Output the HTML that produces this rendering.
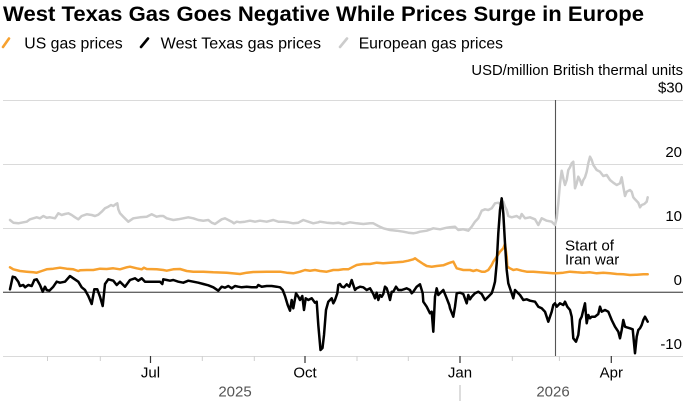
<!DOCTYPE html>
<html><head><meta charset="utf-8"><style>
html,body{margin:0;padding:0;background:#fff;}
svg{display:block;font-family:"Liberation Sans",Arial,sans-serif;}
</style></head><body>
<svg width="689" height="407" viewBox="0 0 689 407" xmlns="http://www.w3.org/2000/svg">
<rect width="689" height="407" fill="#fff"/>
<text x="3" y="21" font-size="21" font-weight="bold" fill="#000" textLength="641" lengthAdjust="spacingAndGlyphs">West Texas Gas Goes Negative While Prices Surge in Europe</text>
<line x1="3" y1="47" x2="9" y2="38.5" stroke="#f7a12f" stroke-width="2.6" stroke-linecap="round"/>
<text x="24.3" y="48.3" font-size="16" fill="#000" textLength="98.4" lengthAdjust="spacingAndGlyphs">US gas prices</text>
<line x1="141" y1="47" x2="148" y2="38.5" stroke="#000" stroke-width="2.6" stroke-linecap="round"/>
<text x="160.7" y="48.3" font-size="16" fill="#000" textLength="160.3" lengthAdjust="spacingAndGlyphs">West Texas gas prices</text>
<line x1="340" y1="47" x2="347" y2="38.5" stroke="#cccccc" stroke-width="2.6" stroke-linecap="round"/>
<text x="358.7" y="48.3" font-size="16" fill="#000" textLength="144.3" lengthAdjust="spacingAndGlyphs">European gas prices</text>
<text x="683" y="75" font-size="15" fill="#000" text-anchor="end" textLength="211.6" lengthAdjust="spacingAndGlyphs">USD/million British thermal units</text>
<text x="683" y="92.7" font-size="15" fill="#000" text-anchor="end">$30</text>
<text x="682" y="157" font-size="15" fill="#000" text-anchor="end">20</text>
<text x="682" y="221" font-size="15" fill="#000" text-anchor="end">10</text>
<text x="682" y="285" font-size="15" fill="#000" text-anchor="end">0</text>
<text x="682" y="349" font-size="15" fill="#000" text-anchor="end">-10</text>
<g stroke="#dadada" stroke-width="1">
<line x1="3" y1="100.5" x2="683" y2="100.5"/>
<line x1="3" y1="164.5" x2="683" y2="164.5"/>
<line x1="3" y1="228.5" x2="683" y2="228.5"/>
<line x1="3" y1="356.5" x2="683" y2="356.5"/>
</g>
<line x1="3" y1="292.3" x2="683" y2="292.3" stroke="#666" stroke-width="1.3"/>
<g stroke="#cfcfcf" stroke-width="1">
<line x1="47.5" y1="356" x2="47.5" y2="361"/>
<line x1="100.3" y1="356" x2="100.3" y2="361"/>
<line x1="202.3" y1="356" x2="202.3" y2="361"/>
<line x1="254.3" y1="356" x2="254.3" y2="361"/>
<line x1="357" y1="356" x2="357" y2="361"/>
<line x1="408.3" y1="356" x2="408.3" y2="361"/>
<line x1="512.3" y1="356" x2="512.3" y2="361"/>
<line x1="559.4" y1="356" x2="559.4" y2="361"/>
</g>
<g stroke="#333" stroke-width="1.2">
<line x1="150.5" y1="356" x2="150.5" y2="363"/>
<line x1="305" y1="356" x2="305" y2="363"/>
<line x1="460" y1="356" x2="460" y2="363"/>
<line x1="611.3" y1="356" x2="611.3" y2="363"/>
</g>
<line x1="460" y1="385" x2="460" y2="401" stroke="#bbb" stroke-width="1"/>
<g font-size="15" fill="#000" text-anchor="middle">
<text x="150.5" y="377.7">Jul</text>
<text x="305" y="377.7">Oct</text>
<text x="460" y="377.7">Jan</text>
<text x="611.3" y="377.7">Apr</text>
</g>
<g font-size="15" fill="#555" text-anchor="middle">
<text x="235" y="396.7">2025</text>
<text x="553" y="396.7">2026</text>
</g>
<line x1="555.5" y1="100" x2="555.5" y2="356" stroke="#555" stroke-width="1.1"/>
<text x="565" y="250.7" font-size="15" fill="#000" textLength="49" lengthAdjust="spacingAndGlyphs">Start of</text>
<text x="565" y="264.7" font-size="15" fill="#000">Iran war</text>
<g fill="none" stroke-width="2.5" stroke-linejoin="round" stroke-linecap="round">
<polyline stroke="#cccccc" points="10,220 13.3,222.7 18.3,223.3 23.3,222.3 26.7,221.7 30,219.3 33.3,218.3 36.7,217.3 40,218.3 43.3,216 46.7,217.7 50,217.3 55,218.3 58.3,213.3 61.7,215 65,214 68.3,213.3 71.7,215 75,217.3 78.3,219.3 81.7,216 86.7,214.3 91.7,215 95,216 98.3,214.7 101.7,211.7 105,208.3 108.3,206.7 111,205 113.3,206 116,204 117.3,203.3 118.3,209.3 120,213.3 123.3,216.7 128.3,221.7 133.3,218.3 140,217.3 146.7,216.7 151.7,214.3 156.7,216.7 160,216 163.3,216 166.7,218.3 173.3,220 178.3,219.3 183.3,218.3 188.3,217.3 193.3,218.3 198.3,220 203.3,220.7 208.3,220 211.7,222.7 215,224 218.3,221.7 221.7,219.3 225,218.3 228.3,220 231.7,221.7 234,223.3 236.7,221.7 240,222.3 245,221.7 250,220.7 255,221.7 260,220.7 266.7,221.7 273.3,220 278.3,221.7 283.3,221.7 288.3,222.3 293.3,223.3 298.3,222.7 303.3,220 308.3,221.7 313.3,223.3 318.3,222.3 320,221.7 326.7,222.7 333.3,223.3 338.3,222.7 343.3,224 350,222.3 356.7,223.3 363.3,224 370,223.3 373.3,223.3 378.3,226 383.3,228.3 390,230 396.7,230.7 403.3,231.7 408.3,232.7 413.3,233.3 416.7,232.7 420,231.7 426.7,230.7 433.3,228.3 440,229.3 446.7,227.7 450,227.3 455,226.7 458.3,230 463.3,229.3 468.3,230.7 471.7,226.7 475,221.7 478.3,218.3 481.7,210.7 485,209.3 488.3,210 491.7,208.3 495,203.3 498.3,202.7 501.7,205 503.3,201.7 505,206.7 506.7,210 508.3,216 511.7,217.3 516.7,216 520,218.3 521.7,214 525,218.3 530,217.3 535,219.3 538.3,225 541.7,218.3 546.7,220.7 551.7,221.7 555,225 556.7,218.3 558.3,203.3 560,183.3 561.7,170.7 563.3,178.3 565,185 566.7,180 568.3,170 570,167.3 571.7,163.3 573.3,161.7 575,188.3 576.7,183.3 578.3,176.7 580,180 581.7,185 583.3,180 585,177.3 586.7,171.7 588.3,163.3 590,156.7 591.7,160 593.3,165 596.7,170 600,171.7 603.3,176 606.7,175 610,180 613.3,182.7 616.7,185 620,183.3 621.7,177.3 623.3,186.7 625,196 626.7,191.7 630,190 631.7,191.7 633.3,197.3 635,199.3 638.3,202.7 640,207.3 641.7,205 644.3,204 646.7,201.7 647.7,197.3"/>
<polyline stroke="#f7a12f" points="10,267.3 13.3,269.3 20,271 26.7,271.7 33.3,272.3 36.7,272.7 41.7,271 46.7,269.3 53.3,268.7 60,267.7 66.7,268.7 73.3,269.3 78.3,271 80,270.3 86.7,270 93.3,270 100,268.7 106.7,269 113.3,268.3 120,269.3 126.7,267.3 130,266.7 136.7,268.3 141.7,269.3 144,267.7 146.7,269 156.7,269.3 163.3,270 166.7,270.7 173.3,269.3 180,269 186.7,271 193.3,271.7 203.3,271.7 213.3,272.3 226.7,272.7 240,274 246.7,272.7 253.3,272 266.7,271.7 280,271.7 286.7,272.7 293.3,273.3 300,271.7 305,270 310,270.7 315,270 320,271 326.7,271.7 333.3,270 338.3,270 343.3,269.3 348.3,269.3 353.3,266.7 356.7,265 363.3,264 370,264 376.7,262.7 383.3,263.3 390,262.7 396.7,262.3 403.3,261.7 408.3,260.7 413.3,259.3 415,258.3 418.3,260.7 423.3,264 426.7,266 431.7,266.7 436.7,266 443.3,265.3 448.3,263.3 450,262.7 453.3,261.7 456.7,268.3 463.3,270 470,270 473.3,271 476.7,270 481.7,271.7 485,271.7 488.3,270 491.7,265 493.3,261.7 496.7,256.7 500,251.7 503.3,248.3 505,244 506.7,256.7 507.3,266.7 510,268.3 513.3,270 516.7,269.3 521.7,270.7 526.7,271.7 533.3,271.7 540,272.3 546.7,272.7 553.3,273.3 556.7,273.3 563.3,272.7 570,271.7 576.7,272.3 583.3,272.7 590,272.3 596.7,273.3 603.3,272.7 610,273.3 616.7,274 623.3,274.3 630,275 636.7,274.7 643.3,274.3 647.7,274.3"/>
<polyline stroke="#000" points="10,289.3 12.7,276.7 15,277.3 18.3,281.7 20,286 23.3,285 25,287.3 28.3,285 31.7,286 34.3,280 36.7,279.3 40,285 42.7,291.7 45,286.7 46.7,290 49.3,290.7 53.3,286.7 56.7,281.7 60,282.7 65,281.7 70,276 73.3,278.3 78.3,281.7 81.7,287.3 85,290 88.3,296 91.7,304 94.3,289.3 97.3,289.3 100,296.7 102.7,306 105,284 108.3,279.3 113.3,280.7 116.7,285 120,281.7 125,286.7 130,280 135,278.3 138.3,280.7 141.7,278.3 145,281.7 150,281.7 160,281.7 162.3,284 163.3,279.3 166.7,280 170,280.7 173.3,280 178.3,281.7 183.3,282.7 188.3,280.7 193.3,281.7 198.3,282.7 203.3,284 208.3,285.3 213.3,287.3 218.3,290.7 221.7,286.7 225,287.7 228.3,286 231.7,288.3 235,286 238.3,286.7 241.7,287.3 246.7,286.7 251.7,287.3 256.7,287.3 258.3,285 261.7,286.7 266.7,286 271.7,286 276.7,286.7 280,287.3 282.7,290 285,296 287.7,305 290,310.7 291.7,300 293.3,308.3 296,293.3 298.3,296.7 300,300 302.3,296 304,310 305.7,298.3 308.3,300 311.7,298.3 315,302.7 316.7,301.7 318.3,325 320.5,350 322.5,348 324,335 326,310 328.3,301.7 331.7,298.3 333.3,303.3 335,300 337.3,293.3 338.3,285 340,284 341.7,286.7 344,287.3 346.7,284.3 349.3,286.7 351.7,280 353.3,285 355,290 356.7,288.3 360,286.7 363.3,287.3 366.7,290 370,288.3 373.3,294 375,298.3 376.7,292.7 378.3,300 380,295 381.7,296.7 383.3,294 385,286.7 386.7,288.3 388.3,293.3 390,300 391.7,291.7 393.3,291.7 396,286.7 398.3,290 401.7,290 406.7,288.3 410,290 411.7,293.3 413.3,291.7 416.7,286.7 420,284.3 422.7,293.3 423.3,301.7 426.7,306.7 430,313.3 431.7,311.7 433.3,331.7 435,296.7 436.7,288.3 438.3,295 440,293.3 443.3,290 446.7,298.3 449.3,305 450,308.3 453.3,316.7 455,306.7 456.7,293.3 460,292.7 463.3,294 466.7,303.3 468.3,295 470,299.3 471.7,296.7 475,293.3 478.3,291.7 481.7,294 485,300 488.3,296.7 491.7,293.3 493.3,288.3 495,281.7 496.7,263.3 498.3,233.3 500,210 501.7,198.3 503.3,213.3 505,243.3 506.7,270 508.3,283.3 510,288.3 511.7,293.3 513.3,298.3 515,290 516.7,291.7 520,295 523.3,300 526.7,299.3 530,300.7 535,301.7 538.3,306.7 541.7,308.3 545,311.7 548.3,321.7 550,316.7 551.7,311.7 553.3,305 555,303.3 556.7,306.7 560,303.3 563.3,305 565,301.7 567.3,306.7 570,310 571.7,316.7 573.3,338.3 576,341.7 578.3,335 580,320 581.7,316.7 583.3,310 585,303.3 586.7,323.3 588.3,315 590,318.3 591.7,316.7 595,316.7 598.3,314 600,306.7 601.7,311.7 605,310 608.3,311.7 611.7,320 615,326.7 618.3,331.7 620,338.3 621.7,330 623.3,320 625,326.7 626.7,327.3 630,328.3 632.7,329.3 635,353.3 636.7,336.7 638.3,330 640,328.3 641.7,325 643.3,320 645,316.7 647.7,321.7"/>
</g>
</svg>
</body></html>
